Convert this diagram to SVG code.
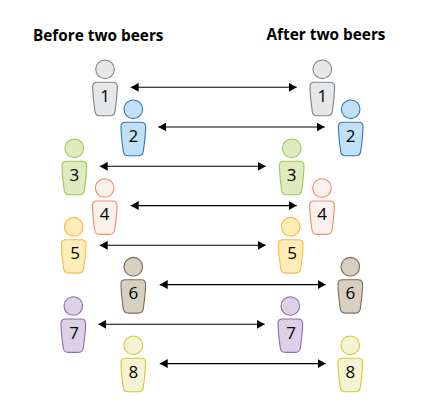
<svg xmlns="http://www.w3.org/2000/svg" width="426" height="417" viewBox="0 0 426 417">
<style>
text{font-family:"Open Sans","Noto Sans","Liberation Sans",sans-serif;fill:#000}
.t{font-size:16px;font-weight:700}
.n{font-size:17px;text-anchor:middle}
.p{stroke-width:1.1}
.c{stroke:#000;stroke-width:1.1;fill:none;marker-start:url(#a);marker-end:url(#a)}
.g{fill:#e6e7e8;stroke:#808285}.b{fill:#c2e0f5;stroke:#2a7ab8}.gr{fill:#dfebbf;stroke:#9cc653}.r{fill:#fbf1ec;stroke:#ee8a6c}
.y{fill:#ffedb5;stroke:#fbb848}.br{fill:#d7cfc0;stroke:#7d6b58}.v{fill:#ddd0e7;stroke:#8f6db0}.l{fill:#f3f5d2;stroke:#d1c92d}
</style>
<defs>
<marker id="a" viewBox="0 0 8 9" refX="8" refY="4.5" markerUnits="userSpaceOnUse" markerWidth="8" markerHeight="9" orient="auto-start-reverse"><path d="M0 0L8 4.5L0 9Z" fill="#000"/></marker>
<g id="s"><circle cx="0" cy="0" r="9.3"/><path d="M-8 13H8Q12.3 13 12.3 17.5Q12.3 26 10 42Q9.3 46.4 5 46.4H-5Q-9.3 46.4-10 42Q-12.3 26-12.3 17.5Q-12.3 13-8 13Z"/></g>
</defs>
<text class="t" x="33" y="40.5" textLength="130.5" lengthAdjust="spacingAndGlyphs">Before two beers</text>
<text class="t" x="266.5" y="39.5" textLength="119" lengthAdjust="spacingAndGlyphs">After two beers</text>
<g id="connectors">
<path class="c" d="M130.7 87.3H296.7"/>
<path class="c" d="M158.3 127H324.7"/>
<path class="c" d="M99.7 166.3H265.7"/>
<path class="c" d="M130.7 205.6H296.7"/>
<path class="c" d="M99.7 245.3H265.7"/>
<path class="c" d="M159.7 284.6H325.7"/>
<path class="c" d="M98.3 324.3H264.7"/>
<path class="c" d="M159.7 363.6H325.7"/>
</g>
<g id="before-1"><use href="#s" class="p g" x="105" y="69.3"/><text class="n" x="105" y="102">1</text></g>
<g id="before-2"><use href="#s" class="p b" x="133.3" y="109.3"/><text class="n" x="133.3" y="141.7">2</text></g>
<g id="before-3"><use href="#s" class="p gr" x="74.3" y="148.3"/><text class="n" x="74.3" y="180.7">3</text></g>
<g id="before-4"><use href="#s" class="p r" x="104.7" y="188"/><text class="n" x="104.7" y="220.4">4</text></g>
<g id="before-5"><use href="#s" class="p y" x="73.7" y="226.7"/><text class="n" x="75" y="259">5</text></g>
<g id="before-6"><use href="#s" class="p br" x="133.3" y="266.7"/><text class="n" x="133.3" y="299">6</text></g>
<g id="before-7"><use href="#s" class="p v" x="73.3" y="306"/><text class="n" x="74" y="338.5">7</text></g>
<g id="before-8"><use href="#s" class="p l" x="133.3" y="345.3"/><text class="n" x="133.3" y="377.7">8</text></g>
<g id="after-1"><use href="#s" class="p g" x="322.3" y="69.3"/><text class="n" x="322.3" y="102">1</text></g>
<g id="after-2"><use href="#s" class="p b" x="350.7" y="109.3"/><text class="n" x="350.7" y="141.7">2</text></g>
<g id="after-3"><use href="#s" class="p gr" x="291.7" y="148.3"/><text class="n" x="291.7" y="180.7">3</text></g>
<g id="after-4"><use href="#s" class="p r" x="322" y="188"/><text class="n" x="322" y="220.4">4</text></g>
<g id="after-5"><use href="#s" class="p y" x="290.7" y="226.7"/><text class="n" x="292" y="259">5</text></g>
<g id="after-6"><use href="#s" class="p br" x="350.3" y="266.7"/><text class="n" x="350.3" y="299">6</text></g>
<g id="after-7"><use href="#s" class="p v" x="290.3" y="306"/><text class="n" x="291" y="338.5">7</text></g>
<g id="after-8"><use href="#s" class="p l" x="350.3" y="345.3"/><text class="n" x="350.3" y="377.7">8</text></g>
</svg>
